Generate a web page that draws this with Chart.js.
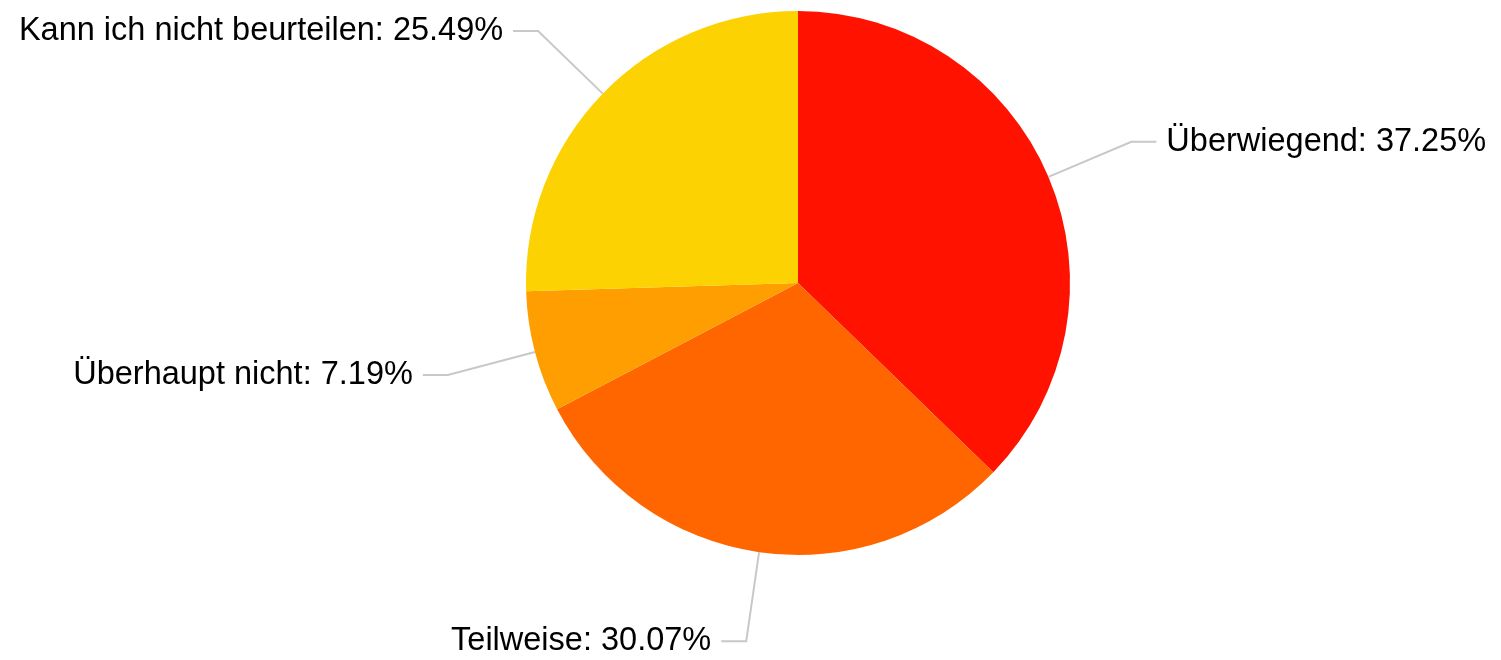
<!DOCTYPE html>
<html>
<head>
<meta charset="utf-8">
<script src="https://cdn.jsdelivr.net/npm/chart.js@4/dist/chart.umd.min.js"></script>
<style>
  html, body { margin: 0; padding: 0; background: #fff; }
  #wrap { width: 1501px; height: 660px; }
</style>
</head>
<body>
<div id="wrap"><canvas id="pie" width="1501" height="660"></canvas></div>
<script>
const categories = ['Überwiegend', 'Teilweise', 'Überhaupt nicht', 'Kann ich nicht beurteilen'];
const shares = [37.25, 30.07, 7.19, 25.49];
const sliceColors = ['#FF1200', '#FF6600', '#FF9E01', '#FCD202'];

// leader lines + labels like the original
const pieLabels = {
  id: 'pieLabels',
  afterDatasetsDraw(chart) {
    const ctx = chart.ctx;
    const arcs = chart.getDatasetMeta(0).data;
    const total = shares.reduce((a, b) => a + b, 0);
    ctx.save();
    ctx.font = '32.5px "Liberation Sans", Arial, sans-serif';
    ctx.textBaseline = 'middle';
    arcs.forEach((arc, i) => {
      const p = arc.getProps(['x', 'y', 'startAngle', 'endAngle', 'outerRadius']);
      const mid = (p.startAngle + p.endAngle) / 2;
      const cos = Math.cos(mid), sin = Math.sin(mid);
      const x1 = p.x + cos * p.outerRadius, y1 = p.y + sin * p.outerRadius;
      const x2 = p.x + cos * (p.outerRadius + 90), y2 = p.y + sin * (p.outerRadius + 90);
      const right = cos >= 0;
      const x3 = x2 + (right ? 25 : -25);

      ctx.strokeStyle = '#c8c8c8';
      ctx.lineWidth = 2;
      ctx.beginPath();
      ctx.moveTo(x1, y1);
      ctx.lineTo(x2, y2);
      ctx.lineTo(x3, y2);
      ctx.stroke();

      const pct = (shares[i] / total * 100).toFixed(2);
      ctx.fillStyle = '#000';
      ctx.textAlign = right ? 'left' : 'right';
      ctx.fillText(`${categories[i]}: ${pct}%`, x3 + (right ? 10 : -10), y2);
    });
    ctx.restore();
  }
};

const ctx = document.getElementById('pie').getContext('2d');
const chart = new Chart(ctx, {
  type: 'pie',
  data: {
    labels: categories,
    datasets: [{
      data: shares,
      backgroundColor: sliceColors,
      borderWidth: 0
    }]
  },
  options: {
    responsive: false,
    animation: false,
    devicePixelRatio: 1,
    radius: 272,
    layout: {
      padding: { top: 11, bottom: 105, left: 498, right: 403 }
    },
    plugins: {
      legend: { display: false },
      tooltip: { enabled: false }
    }
  },
  plugins: [pieLabels]
});
</script>
</body>
</html>
